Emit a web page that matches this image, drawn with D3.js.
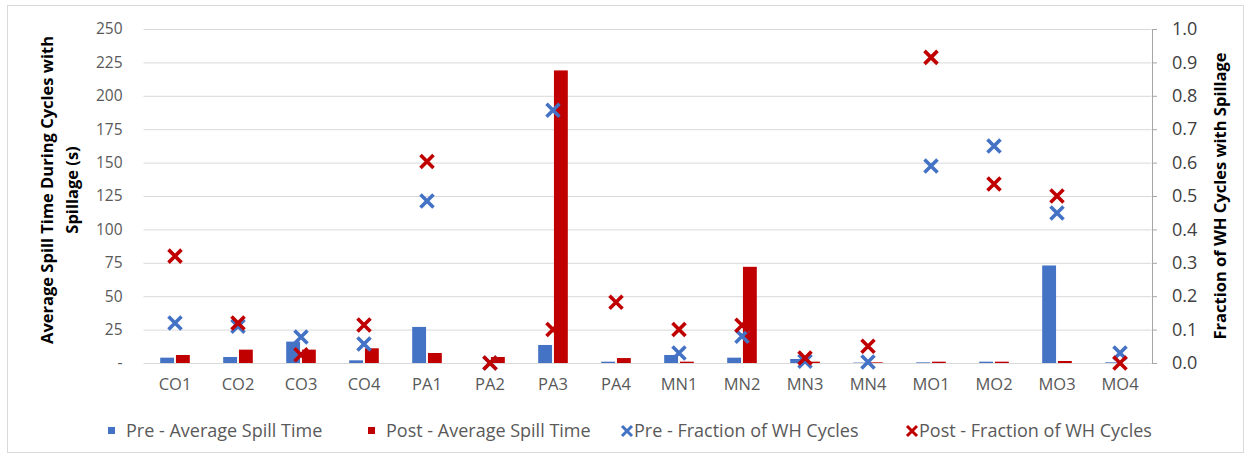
<!DOCTYPE html>
<html><head><meta charset="utf-8">
<script src="https://cdn.jsdelivr.net/npm/d3@7"></script>
<style>
html,body{margin:0;padding:0;background:#fff;}
svg{display:block;font-family:"Open Sans",sans-serif;}
</style></head>
<body><svg id="c" width="1250" height="459"></svg>
<script>
const categories = ["CO1","CO2","CO3","CO4","PA1","PA2","PA3","PA4","MN1","MN2","MN3","MN4","MO1","MO2","MO3","MO4"];
const preTime  = [4, 4.5, 16, 2, 27, 0, 13.5, 1, 6, 4, 3, 0.3, 0.5, 1, 73, 0.5];
const postTime = [6, 10, 10, 11, 7.5, 4.5, 219, 3.7, 1, 72, 1, 0.5, 1, 1, 1.5, 0];
const preFrac  = [0.12, 0.11, 0.078, 0.057, 0.485, 0, 0.757, null, 0.03, 0.08, 0.005, 0.003, 0.59, 0.65, 0.449, 0.03];
const postFrac = [0.32, 0.12, 0.025, 0.114, 0.603, 0, 0.10, 0.182, 0.10, 0.113, 0.015, 0.05, 0.915, 0.536, 0.5, 0.0];
const leftTicks = [0,25,50,75,100,125,150,175,200,225,250];
const rightTicks = [0,0.1,0.2,0.3,0.4,0.5,0.6,0.7,0.8,0.9,1.0];
const seriesNames = ["Pre - Average Spill Time","Post - Average Spill Time","Pre - Fraction of WH Cycles","Post - Fraction of WH Cycles"];

const BLUE = "#4472C4", RED = "#C00000";
const svg = d3.select("#c");
const L = 143.5, R = 1151.5, T = 29, B = 363;

// border
svg.append("rect").attr("x",7.5).attr("y",5.5).attr("width",1236).attr("height",447)
  .attr("fill","none").attr("stroke","#d9d9d9");

const x0 = d3.scaleBand().domain(categories).range([L,R]).paddingInner(0.47).paddingOuter(0.235);
const x1 = d3.scaleBand().domain(["pre","post"]).range([0,x0.bandwidth()]).padding(0.12);
const yL = d3.scaleLinear().domain([0,250]).range([B,T]);
const yR = d3.scaleLinear().domain([0,1]).range([B,T]);

// grid
svg.append("g").selectAll("line").data(leftTicks.slice(1)).join("line")
  .attr("x1",L).attr("x2",R).attr("y1",d=>yL(d)+0.5).attr("y2",d=>yL(d)+0.5)
  .attr("stroke","#d9d9d9").attr("stroke-width",1);

// left axis
const gl = svg.append("g").attr("transform",`translate(${L},0)`)
  .call(d3.axisLeft(yL).tickValues(leftTicks).tickSize(0).tickPadding(21)
     .tickFormat(d=> d===0 ? "-" : d));
gl.select(".domain").remove();
gl.selectAll("text").attr("fill","#595959").style("font-size","15.5px").style("font-family","Open Sans");

// bars
const bars = svg.append("g");
categories.forEach((c,i)=>{
  [["pre",preTime[i],BLUE],["post",postTime[i],RED]].forEach(([k,v,col])=>{
    if(v==null) return;
    bars.append("rect").attr("x",x0(c)+x1(k)).attr("width",x1.bandwidth())
      .attr("y",yL(v)).attr("height",Math.max(0,yL(0)-yL(v))).attr("fill",col);
  });
});

// bottom axis
const gb = svg.append("g").attr("transform",`translate(0,${B+0.5})`)
  .call(d3.axisBottom(x0).tickSize(0).tickPadding(15).tickSizeOuter(0));
gb.select(".domain").attr("stroke","#d9d9d9").attr("d",`M${L},0H${R}`);
gb.selectAll("text").attr("fill","#595959").style("font-size","16.5px").style("font-family","Open Sans");

// right axis
const gr = svg.append("g").attr("transform",`translate(${R+0.5},0)`)
  .call(d3.axisRight(yR).tickValues(rightTicks).tickSize(5).tickPadding(15).tickFormat(d3.format(".1f")));
gr.select(".domain").attr("stroke","#a6a6a6");
gr.selectAll("line").attr("stroke","#a6a6a6");
gr.selectAll("text").attr("fill","#404040").style("font-size","18px").style("font-family","Open Sans");

// markers
function xPath(h){return `M${-h},${-h}L${h},${h}M${-h},${h}L${h},${-h}`;}
const mk = svg.append("g");
[[preFrac,BLUE],[postFrac,RED]].forEach(([arr,col])=>{
  categories.forEach((c,i)=>{
    const v = arr[i]; if(v==null) return;
    mk.append("path").attr("d",xPath(6.5))
      .attr("transform",`translate(${x0(c)+x0.bandwidth()/2},${yR(v)})`)
      .attr("stroke",col).attr("stroke-width",3.6).attr("fill","none");
  });
});

// axis titles
const tfs = "16.5px";
svg.append("text").attr("transform","translate(53,190) rotate(-90)")
  .attr("text-anchor","middle").attr("font-weight","bold").attr("font-size",tfs).attr("fill","#000")
  .text("Average Spill Time During Cycles with");
svg.append("text").attr("transform","translate(78,190) rotate(-90)")
  .attr("text-anchor","middle").attr("font-weight","bold").attr("font-size",tfs).attr("fill","#000")
  .text("Spillage (s)");
svg.append("text").attr("transform","translate(1226,196) rotate(-90)")
  .attr("text-anchor","middle").attr("font-weight","bold").attr("font-size",tfs).attr("fill","#000")
  .text("Fraction of WH Cycles with Spillage");

// legend
const lg = svg.append("g");
const legPos = [108, 368, 627, 912];
const legY = 431;
seriesNames.forEach((n,i)=>{
  const xs = legPos[i];
  const col = (i%2===0)?BLUE:RED;
  if(i<2){
    lg.append("rect").attr("x",xs).attr("y",legY-4).attr("width",7).attr("height",7).attr("fill",col);
  } else {
    lg.append("path").attr("d",xPath(5)).attr("transform",`translate(${xs},${legY})`)
      .attr("stroke",col).attr("stroke-width",3).attr("fill","none");
  }
  lg.append("text").attr("x", i<2 ? xs+18 : xs+7).attr("y",legY).attr("dy","0.35em")
    .attr("fill","#595959").attr("font-size","18px").text(n);
});
</script></body></html>
